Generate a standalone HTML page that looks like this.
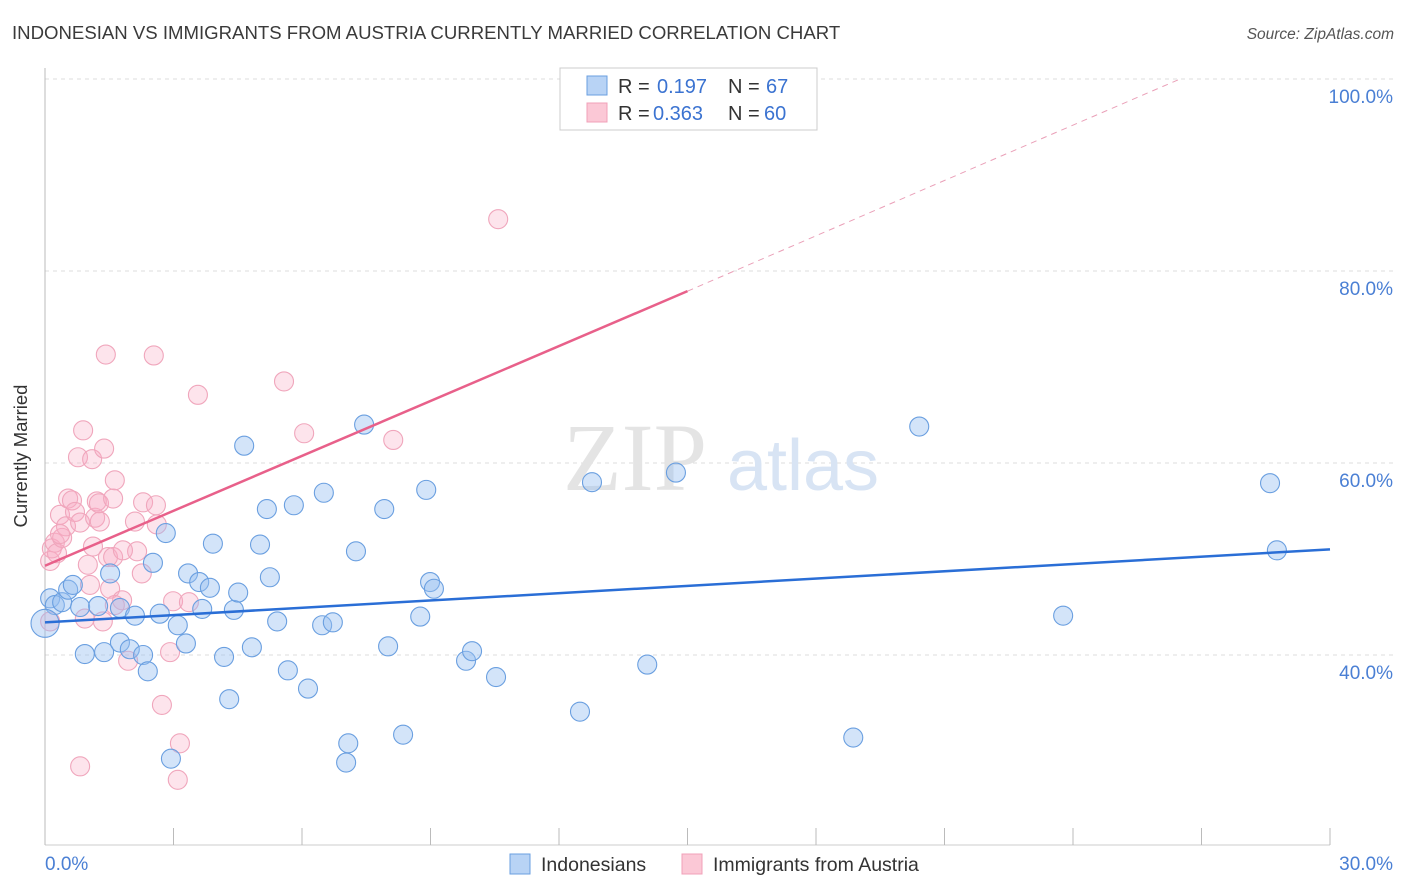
<!DOCTYPE html>
<html><head><meta charset="utf-8"><style>
body{margin:0;background:#fff;font-family:"Liberation Sans",sans-serif;}
svg{display:block}
</style></head><body>
<svg id="chart" width="1406" height="892">
<text x="12" y="39" font-size="18.6" fill="#3a3a3a">INDONESIAN VS IMMIGRANTS FROM AUSTRIA CURRENTLY MARRIED CORRELATION CHART</text>
<text x="1394" y="39" font-size="15.5" fill="#555" font-style="italic" text-anchor="end">Source: ZipAtlas.com</text>
<g id="grid"></g>
<g><text x="635" y="490" font-size="96" fill="#e4e4e4" font-family="Liberation Serif,serif" text-anchor="middle">ZIP</text><text x="803" y="490" font-size="72" fill="#d8e4f4" text-anchor="middle">atlas</text></g>
<line x1="45" y1="68" x2="45" y2="845" stroke="#bbb"/>
<line x1="45" y1="845" x2="1330" y2="845" stroke="#ccc"/>
<g id="xticks"></g>
<g id="pts"></g>
<g id="lines"></g>
<text x="27" y="456" font-size="18.5" fill="#333" text-anchor="middle" transform="rotate(-90 27 456)">Currently Married</text>
<text x="45" y="870" font-size="19" fill="#4a7fd4">0.0%</text>
<text x="1393" y="870" font-size="19" fill="#4a7fd4" text-anchor="end">30.0%</text>
<g>
<rect x="560" y="68" width="257" height="62" fill="#fff" stroke="#ccc"/>
<rect x="587" y="76" width="20" height="19" fill="#b8d3f5" stroke="#6a9fe0"/>
<rect x="587" y="103" width="20" height="19" fill="#fbc8d6" stroke="#f0a0b8"/>
<text x="618" y="93" font-size="20" fill="#333">R = </text><text x="657" y="93" font-size="20" fill="#3b73d1">0.197</text>
<text x="728" y="93" font-size="20" fill="#333">N = </text><text x="766" y="93" font-size="20" fill="#3b73d1">67</text>
<text x="618" y="120" font-size="20" fill="#333">R = </text><text x="653" y="120" font-size="20" fill="#3b73d1">0.363</text>
<text x="728" y="120" font-size="20" fill="#333">N = </text><text x="764" y="120" font-size="20" fill="#3b73d1">60</text>
</g>
<g>
<rect x="510" y="854" width="20" height="20" fill="#b8d3f5" stroke="#6a9fe0"/>
<text x="541" y="871" font-size="19.5" fill="#333">Indonesians</text>
<rect x="682" y="854" width="20" height="20" fill="#fbc8d6" stroke="#f0a0b8"/>
<text x="713" y="871" font-size="19.5" fill="#333">Immigrants from Austria</text>
</g>
</svg>
<script>
const yTicks=[40,60,80,100];
const xTickCount=10;
const blueX=[0.12,0.23,0.40,0.54,0.65,0.82,0.93,1.24,1.38,1.52,1.75,1.75,1.98,2.10,2.29,2.40,2.52,2.68,2.82,2.94,3.10,3.29,3.34,3.60,3.67,3.85,3.92,4.18,4.30,4.41,4.51,4.65,4.83,5.02,5.18,5.25,5.42,5.67,5.81,6.14,6.47,6.51,6.72,7.08,7.03,7.26,7.45,7.92,8.01,8.36,8.76,8.90,8.99,9.08,9.83,9.97,10.53,12.49,12.77,14.06,14.73,18.87,20.41,23.77,28.60,28.76,0.0];
const blueY=[45.9,45.2,45.5,46.8,47.3,45.0,40.1,45.1,40.3,48.5,44.9,41.3,40.6,44.1,40.0,38.3,49.6,44.3,52.7,29.2,43.1,41.2,48.5,47.6,44.8,47.0,51.6,39.8,35.4,44.7,46.5,61.8,40.8,51.5,55.2,48.1,43.5,38.4,55.6,36.5,43.1,56.9,43.4,30.8,28.8,50.8,64.0,55.2,40.9,31.7,44.0,57.2,47.6,46.9,39.4,40.4,37.7,34.1,58.0,39.0,59.0,31.4,63.8,44.1,57.9,50.9,43.3];
const pinkX=[0.12,0.12,0.16,0.23,0.28,0.35,0.40,0.49,0.54,0.63,0.70,0.77,0.82,0.89,0.93,1.00,1.05,1.10,1.12,1.17,1.21,1.26,1.28,1.38,1.42,1.47,1.52,1.59,1.63,1.59,1.80,1.94,2.10,2.15,2.26,2.29,2.54,2.59,2.61,2.73,2.92,2.99,3.15,3.10,3.36,3.57,5.58,6.05,8.13,10.58,0.82,1.63,1.82,1.35,0.35];
const pinkY=[43.5,49.8,51.1,51.7,50.6,54.6,52.2,53.4,56.3,56.1,54.9,60.6,53.8,63.4,43.8,49.4,47.3,60.4,51.3,54.3,56.0,55.8,53.9,61.5,71.3,50.2,46.9,56.3,58.2,50.2,45.7,39.4,53.9,50.8,48.5,55.9,71.2,55.6,53.6,34.8,40.3,45.6,30.8,27.0,45.5,67.1,68.5,63.1,62.4,85.4,28.4,45.2,50.9,43.5,52.6];
const X=v=>45+v/30*1285, Y=v=>1039-v*9.6;
const NS="http://www.w3.org/2000/svg";
function mk(t,a,p){const e=document.createElementNS(NS,t);for(const k in a)e.setAttribute(k,a[k]);p.appendChild(e);return e;}
const grid=document.getElementById('grid');
yTicks.forEach(t=>{
 const l=mk('line',{x1:45,x2:1393,y1:Y(t),y2:Y(t),stroke:'#ddd','stroke-dasharray':'4,4'},grid);
 
 
 const tx=mk('text',{x:1393,y:Y(t)+24,'font-size':19,fill:'#4a7fd4','text-anchor':'end'},grid);
 tx.textContent=t.toFixed(1)+'%';
 
 
});
const xt=document.getElementById('xticks');
for(let i=0;i<=xTickCount;i++){
 const l=mk('line',{x1:X(i*3),x2:X(i*3),y1:828,y2:845,stroke:'#bbb'},xt);
 
 
}
const pts=document.getElementById('pts');
function series(xs,ys,fill,stroke,name){
 xs.forEach((x,i)=>{
  const c=mk('circle',{cx:X(x),cy:Y(ys[i]),r:(i==xs.length-1&&name=='indonesian-point')?14:9.5,fill:fill,stroke:stroke,'stroke-width':1.1},pts);
  
  
 });
}
series(pinkX,pinkY,'rgba(248,170,195,0.32)','#f0a6bc','austria-point');
series(blueX,blueY,'rgba(150,190,240,0.42)','#6a9fe0','indonesian-point');
const lines=document.getElementById('lines');
const bl=mk('line',{x1:X(0),y1:Y(43.4),x2:X(30),y2:Y(51.0),stroke:'#2a6ed6','stroke-width':2.5},lines);


const pl=mk('line',{x1:X(0),y1:Y(49.3),x2:X(15),y2:Y(77.9),stroke:'#e8608a','stroke-width':2.5},lines);


const pd=mk('line',{x1:X(15),y1:Y(77.9),x2:X(26.5),y2:Y(100.0),stroke:'#eaa0b8','stroke-width':1,'stroke-dasharray':'6,5'},lines);


</script>
</body></html>
